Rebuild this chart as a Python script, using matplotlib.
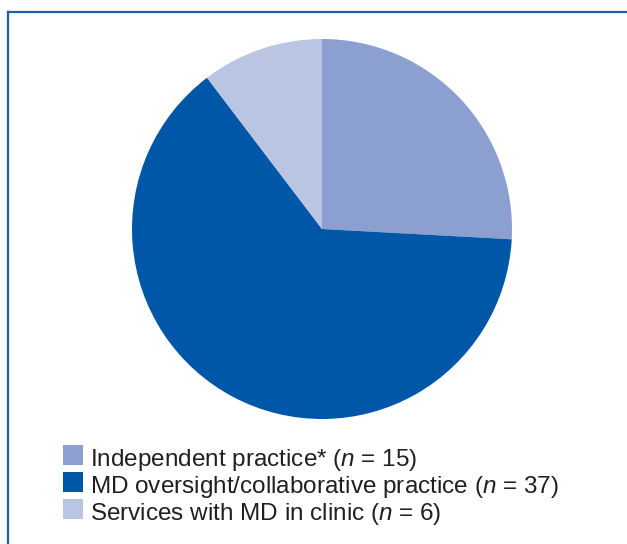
import matplotlib.pyplot as plt
from matplotlib.patches import Rectangle
from matplotlib.lines import Line2D

plt.rcParams['font.family'] = ['Liberation Sans', 'DejaVu Sans']
plt.rcParams['mathtext.fontset'] = 'custom'
plt.rcParams['mathtext.it'] = 'Liberation Sans:italic'
plt.rcParams['mathtext.rm'] = 'Liberation Sans'

# data
categories = ['Independent practice*', 'MD oversight/collaborative practice',
              'Services with MD in clinic']
counts = [15, 37, 6]
colors = ['#8c9fd1', '#0057a8', '#bac4e3']

W, H = 627, 544
fig = plt.figure(figsize=(W / 100, H / 100), dpi=100)

# pie: centre (322, 229) px, radius 190 px
cx, cy, r = 322, 229, 190
ax = fig.add_axes([(cx - r) / W, 1 - (cy + r) / H, 2 * r / W, 2 * r / H])
wedges, _ = ax.pie(counts, colors=colors, startangle=90, counterclock=False,
                   wedgeprops=dict(linewidth=0))
ax.set_xlim(-1, 1)
ax.set_ylim(-1, 1)
ax.set_aspect('equal')
ax.axis('off')

# frame lines (top and left only)
bc = '#1f5fa8'
fig.add_artist(Line2D([7.5 / W, 1], [1 - 11.5 / H] * 2, color=bc, lw=1.6,
                      transform=fig.transFigure))
fig.add_artist(Line2D([7.5 / W] * 2, [0, 1 - 11.5 / H], color=bc, lw=1.6,
                      transform=fig.transFigure))

# legend, drawn by hand
y0, dy = 455, 27
for i, (lab, n, w) in enumerate(zip(categories, counts, wedges)):
    yc = y0 + i * dy
    fig.add_artist(Rectangle((63 / W, 1 - (yc + 10) / H), 20 / W, 20 / H,
                             facecolor=w.get_facecolor(), edgecolor='none',
                             transform=fig.transFigure))
    fig.text(90 / W, 1 - (yc + 11) / H, lab + ' ($n$ = %d)' % n,
             fontsize=17.5, color='#231f20', va='baseline', ha='left')

fig.savefig('out.png', dpi=100, facecolor='white')
